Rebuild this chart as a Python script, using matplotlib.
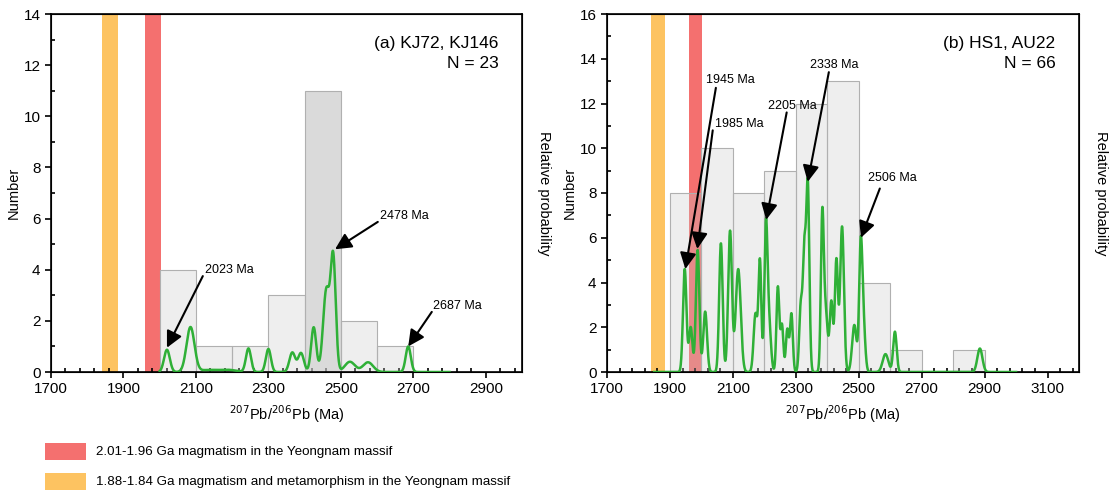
import numpy as np
import matplotlib
matplotlib.use("Agg")
import matplotlib.pyplot as plt
from matplotlib.patches import Rectangle

plt.rcParams['font.family'] = ['Liberation Sans', 'DejaVu Sans']

# histogram bins (left edge, Ma) and counts
a_bins   = [2000, 2100, 2200, 2300, 2400, 2500, 2600]
a_counts = [4, 1, 1, 3, 11, 2, 1]
b_bins   = [1900, 2000, 2100, 2200, 2300, 2400, 2500, 2600, 2800]
b_counts = [8, 10, 8, 9, 12, 13, 4, 1, 1]

# probability curve components: age (Ma), height, sigma (Ma)
a_peak_age = [2020, 2085, 2135, 2190, 2245, 2300, 2366, 2390, 2425, 2460, 2479, 2525, 2575, 2686]
a_peak_h   = [0.87, 1.75, 0.08, 0.08, 0.92, 0.90, 0.76, 0.74, 1.75, 3.2, 4.35, 0.40, 0.38, 1.0]
a_peak_s   = [8, 11, 25, 22, 7, 7, 8, 8, 7, 9, 7, 14, 14, 7]

b_peak_age = [1947, 1966, 1988, 2012, 2062, 2091, 2117, 2172, 2186, 2205, 2215, 2243, 2256, 2273,
              2286, 2316, 2327, 2338, 2384, 2394, 2413, 2429, 2447, 2486, 2506, 2514, 2585, 2615, 2885]
b_peak_h   = [4.6, 2.0, 5.45, 2.7, 5.75, 6.3, 4.6, 2.6, 4.9, 6.3, 2.1, 3.8, 2.1, 1.9,
              2.6, 3.0, 5.0, 8.4, 6.3, 2.8, 3.1, 5.0, 6.5, 2.1, 5.0, 2.3, 0.8, 1.8, 1.05]
b_peak_s   = [5.5, 5.5, 5.5, 6, 5.5, 6, 8, 6, 4.5, 5, 6, 4.5, 4.5, 4.5,
              4.5, 5, 4.5, 5, 4.5, 7, 5, 5, 6, 7, 5, 6, 9, 5.5, 8]

# peak labels: text, text pos (Ma, N), arrow tail, arrow head
a_labels = [("2023 Ma", (2125, 4.0), (2119, 3.75), (2020, 0.95)),
            ("2478 Ma", (2608, 6.1), (2602, 5.87), (2484, 4.8)),
            ("2687 Ma", (2754, 2.58), (2751, 2.35), (2686, 1.0))]
b_labels = [("1945 Ma", (2014, 13.05), (2046, 12.7), (1949, 4.6)),
            ("1985 Ma", (2043, 11.1), (2036, 10.8), (1987, 5.5)),
            ("2205 Ma", (2211, 11.9), (2271, 11.6), (2206, 6.8)),
            ("2338 Ma", (2344, 13.7), (2405, 13.4), (2338, 8.5)),
            ("2506 Ma", (2529, 8.67), (2567, 8.2), (2507, 6.0))]

red    = '#f4706f'
orange = '#fdc361'
green  = '#2fb037'

def prob_curve(x, ages, hs, ss):
  y = np.zeros_like(x)
  for m, h, s in zip(ages, hs, ss):
    y += h * np.exp(-0.5 * ((x - m) / s) ** 2)
  return y

def panel(ax, bins, counts, dark, ages, hs, ss, xrange, xlim, ymax, title, labels):
  ax.axvspan(1840, 1885, color=orange, lw=0, zorder=1)
  ax.axvspan(1960, 2003, color=red, lw=0, zorder=1)
  for b, c in zip(bins, counts):
    a = 0.65 if b == dark else 0.3
    ax.bar(b, c, width=100, align='edge', color=(0.78, 0.78, 0.78, a),
           edgecolor='#b0b0b0', lw=0.8, zorder=2)
  x = np.linspace(xrange[0], xrange[1], 3000)
  ax.plot(x, prob_curve(x, ages, hs, ss), color=green, lw=1.8, zorder=3)
  for txt, tpos, tail, head in labels:
    ax.text(tpos[0], tpos[1], txt, fontsize=9, ha='left', va='center', zorder=5)
    ax.annotate('', xy=head, xytext=tail, zorder=5,
                arrowprops=dict(arrowstyle='-|>,head_length=0.7,head_width=0.35', color='k',
                                lw=1.5, shrinkA=0, shrinkB=0, mutation_scale=14))
  ax.text(0.95, 0.89, title, transform=ax.transAxes, ha='right', va='center', fontsize=12.5,
          linespacing=1.45)
  ax.set_xlim(*xlim)
  ax.set_ylim(0, ymax)
  ax.set_xticks(np.arange(1700, xlim[1] + 1, 200))
  ax.set_xticks(np.arange(1700, xlim[1] + 1, 40), minor=True)
  ax.set_yticks(np.arange(0, ymax + 1, 2))
  ax.set_yticks(np.arange(0, ymax + 1, 1), minor=True)
  ax.tick_params(which='major', direction='out', length=4, width=1.2, labelsize=11)
  ax.tick_params(which='minor', direction='in', length=3, width=1.2)
  for sp in ax.spines.values():
    sp.set_linewidth(1.2)
  ax.set_ylabel('Number', fontsize=10.5, labelpad=2)
  ax.set_xlabel(r'$^{207}$Pb/$^{206}$Pb (Ma)', fontsize=10.5, labelpad=5)
  tw = ax.twinx()
  tw.set_yticks([])
  tw.set_ylabel('Relative probability', rotation=270, fontsize=10.5, labelpad=21)

fig = plt.figure(figsize=(11.1, 4.93), dpi=100)
ax1 = fig.add_axes([51 / 1110, 121 / 493, 471 / 1110, 358 / 493])
ax2 = fig.add_axes([607 / 1110, 121 / 493, 472 / 1110, 358 / 493])

panel(ax1, a_bins, a_counts, 2400, a_peak_age, a_peak_h, a_peak_s, (2000, 2800), (1700, 3000), 14,
      '(a) KJ72, KJ146\nN = 23', a_labels)
panel(ax2, b_bins, b_counts, None, b_peak_age, b_peak_h, b_peak_s, (1850, 3000), (1700, 3200), 16,
      '(b) HS1, AU22\nN = 66', b_labels)

# band legend below the panels
fig.add_artist(Rectangle((45 / 1110, 1 - 460 / 493), 41 / 1110, 17 / 493, transform=fig.transFigure,
                         color=red, lw=0))
fig.add_artist(Rectangle((45 / 1110, 1 - 490 / 493), 41 / 1110, 17 / 493, transform=fig.transFigure,
                         color=orange, lw=0))
fig.text(96 / 1110, 1 - 452 / 493, '2.01-1.96 Ga magmatism in the Yeongnam massif', fontsize=9.6, va='center')
fig.text(96 / 1110, 1 - 482 / 493, '1.88-1.84 Ga magmatism and metamorphism in the Yeongnam massif',
         fontsize=9.6, va='center')

fig.savefig('out.png', dpi=100)
